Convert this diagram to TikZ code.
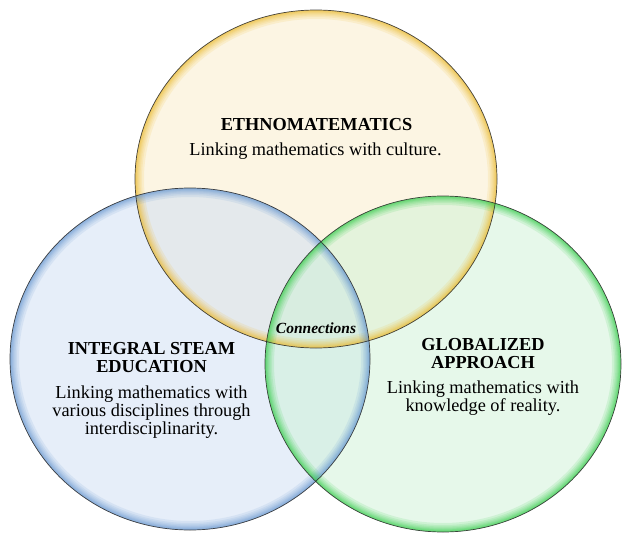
\documentclass[tikz,border=0pt]{standalone}
\usepackage{fontspec}
\setmainfont{Liberation Serif}
\definecolor{topfill}{RGB}{251,236,200}
\definecolor{leftfill}{RGB}{206,223,245}
\definecolor{rightfill}{RGB}{206,242,214}
\definecolor{topglow}{RGB}{238,186,40}
\definecolor{leftglow}{RGB}{100,150,210}
\definecolor{rightglow}{RGB}{50,205,70}
\definecolor{rimdark}{RGB}{40,40,40}
\tikzset{
  title/.style={font=\bfseries\fontsize{18.3}{19}\selectfont, anchor=base, align=center, inner sep=0pt},
  body/.style={font=\fontsize{18.3}{19}\selectfont, anchor=base, align=center, inner sep=0pt},
  conn/.style={font=\bfseries\itshape\fontsize{15.5}{16}\selectfont, anchor=base, inner sep=0pt},
  rim/.style={draw=rimdark, line width=0.7pt, draw opacity=0.85},
}
\newcommand{\glowellipse}[4]{%
  \begin{scope}
    \clip #1 ellipse [x radius=#2, y radius=#3];
    \foreach \w in {18,14,11,8.5,6.5,5,3.5,2.2}
      \draw[#4, line width=\w pt, opacity=0.13] #1 ellipse [x radius=#2, y radius=#3];
  \end{scope}}
\begin{document}
\begin{tikzpicture}[x=1pt, y=-1pt]
  \useasboundingbox[fill=white] (0,0) rectangle (622,533);
  % fills
  \fill[topfill, fill opacity=0.5] (316,179) ellipse [x radius=181pt, y radius=169pt];
  \fill[leftfill, fill opacity=0.5] (190,359) ellipse [x radius=180pt, y radius=171pt];
  \fill[rightfill, fill opacity=0.5] (443,364) ellipse [x radius=178pt, y radius=168pt];
  % glows
  \glowellipse{(316,179)}{181pt}{169pt}{topglow}
  \glowellipse{(190,359)}{180pt}{171pt}{leftglow}
  \glowellipse{(443,364)}{178pt}{168pt}{rightglow}
  % rims
  \draw[rim] (316,179) ellipse [x radius=181pt, y radius=169pt];
  \draw[rim] (190,359) ellipse [x radius=180pt, y radius=171pt];
  \draw[rim] (443,364) ellipse [x radius=178pt, y radius=168pt];
  % texts
  \node[title] (ethT) at (316.5,130) {ETHNOMATEMATICS};
  \node[body]  (ethB) at (315.5,155) {Linking mathematics with culture.};
  \node[title] (steamT1) at (151.5,354) {INTEGRAL STEAM};
  \node[title] (steamT2) at (151.5,372) {EDUCATION};
  \node[body]  (steamB1) at (151.5,398) {Linking mathematics with};
  \node[body]  (steamB2) at (151.5,416) {various disciplines through};
  \node[body]  (steamB3) at (151.5,434) {interdisciplinarity.};
  \node[title] (globT1) at (483,350) {GLOBALIZED};
  \node[title] (globT2) at (483,368) {APPROACH};
  \node[body]  (globB1) at (483,393) {Linking mathematics with};
  \node[body]  (globB2) at (483,411) {knowledge of reality.};
  \node[conn]  (conn) at (316,333) {Connections};
\end{tikzpicture}
\end{document}
